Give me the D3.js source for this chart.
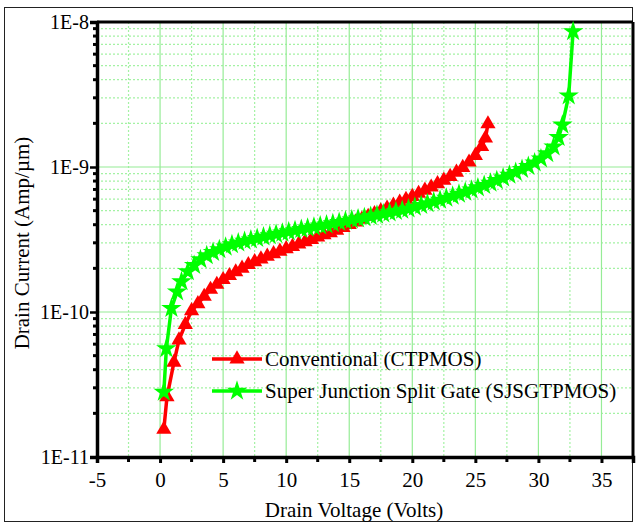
<!DOCTYPE html>
<html>
<head>
<meta charset="utf-8">
<script src="https://cdn.jsdelivr.net/npm/d3@7"></script>
<style>
  body { margin: 0; background: #fff; }
  text { font-family: "Liberation Serif", "Times New Roman", serif; fill: #000; }
</style>
</head>
<body>
<script>
// Conventional (CTPMOS)
var convV = [0.3, 0.55, 1.1, 1.5, 2.0, 2.5, 3.0, 3.5, 4.0, 4.5, 5.0, 5.5, 6.0, 6.5, 7.0, 7.5, 8.0, 8.5, 9.0, 9.5,
  10.0, 10.5, 11.0, 11.5, 12.0, 12.5, 13.0, 13.5, 14.0, 14.5, 15.0, 15.5, 16.0, 16.5, 17.0, 17.5, 18.0, 18.5, 19.0, 19.5,
  20.0, 20.5, 21.0, 21.5, 22.0, 22.5, 23.0, 23.5, 24.0, 24.5, 25.0, 25.5, 25.8, 26.0];
var convI = [1.55e-11, 2.6e-11, 4.5e-11, 6.4e-11, 8.2e-11, 1.02e-10, 1.14e-10, 1.28e-10, 1.43e-10, 1.55e-10,
  1.67e-10, 1.78e-10, 1.89e-10, 2.0e-10, 2.12e-10, 2.22e-10, 2.32e-10, 2.42e-10, 2.52e-10, 2.62e-10,
  2.73e-10, 2.83e-10, 2.94e-10, 3.05e-10, 3.16e-10, 3.28e-10, 3.4e-10, 3.52e-10, 3.66e-10, 3.82e-10,
  4.0e-10, 4.17e-10, 4.36e-10, 4.56e-10, 4.76e-10, 4.97e-10, 5.2e-10, 5.44e-10, 5.7e-10, 5.97e-10,
  6.26e-10, 6.57e-10, 6.9e-10, 7.26e-10, 7.65e-10, 8.1e-10, 8.6e-10, 9.2e-10, 9.9e-10, 1.08e-9,
  1.2e-9, 1.38e-9, 1.58e-9, 1.98e-9];

// Super Junction Split Gate (SJSGTPMOS)
var sjV = [0.3, 0.5, 0.9, 1.35, 1.7, 2.2, 2.7, 3.2, 3.7, 4.2, 4.7, 5.2, 5.7, 6.2, 6.7, 7.2, 7.7, 8.2, 8.7, 9.2,
  9.7, 10.2, 10.7, 11.2, 11.7, 12.2, 12.7, 13.2, 13.7, 14.2, 14.7, 15.2, 15.7, 16.2, 16.7, 17.2, 17.7, 18.2, 18.7, 19.2,
  19.7, 20.2, 20.7, 21.2, 21.7, 22.2, 22.7, 23.2, 23.7, 24.2, 24.7, 25.2, 25.7, 26.2, 26.7, 27.2, 27.7, 28.2, 28.7, 29.2,
  29.7, 30.2, 30.7, 31.2, 31.6, 31.9, 32.4, 32.75];
var sjI = [2.8e-11, 5.6e-11, 1.06e-10, 1.38e-10, 1.62e-10, 1.9e-10, 2.1e-10, 2.3e-10, 2.45e-10, 2.58e-10,
  2.7e-10, 2.81e-10, 2.92e-10, 3.0e-10, 3.08e-10, 3.15e-10, 3.22e-10, 3.3e-10, 3.37e-10, 3.44e-10,
  3.51e-10, 3.58e-10, 3.65e-10, 3.72e-10, 3.79e-10, 3.86e-10, 3.93e-10, 4.0e-10, 4.08e-10, 4.16e-10,
  4.24e-10, 4.32e-10, 4.4e-10, 4.48e-10, 4.57e-10, 4.66e-10, 4.75e-10, 4.84e-10, 4.94e-10, 5.04e-10,
  5.15e-10, 5.3e-10, 5.45e-10, 5.6e-10, 5.76e-10, 5.92e-10, 6.1e-10, 6.3e-10, 6.5e-10, 6.72e-10,
  6.95e-10, 7.2e-10, 7.47e-10, 7.76e-10, 8.08e-10, 8.42e-10, 8.8e-10, 9.2e-10, 9.65e-10, 1.01e-9,
  1.07e-9, 1.14e-9, 1.24e-9, 1.38e-9, 1.6e-9, 1.95e-9, 3.1e-9, 8.6e-9];

var xTicks = [-5, 0, 5, 10, 15, 20, 25, 30, 35];
var xMinor = [-2.5, 2.5, 7.5, 12.5, 17.5, 22.5, 27.5, 32.5];
var yTicks = [1e-11, 1e-10, 1e-9, 1e-8];
var yLabels = ["1E-11", "1E-10", "1E-9", "1E-8"];
var seriesNames = ["Conventional (CTPMOS)", "Super Junction Split Gate (SJSGTPMOS)"];

var W = 636, H = 529;
var mLeft = 97, mRight = 633, mTop = 22, mBottom = 457;

var svg = d3.select('body').append('svg')
    .attr('width', W)
    .attr('height', H);

// outer frame
svg.append('rect')
    .attr('x', 4.5).attr('y', 7.5)
    .attr('width', 628).attr('height', 514)
    .attr('fill', 'none').attr('stroke', '#222').attr('stroke-width', 1);

var x = d3.scaleLinear().domain([-5, 37.5]).range([mLeft, mRight]);
var y = d3.scaleLog().domain([1e-11, 1e-8]).range([mBottom, mTop]);

// log minor values
var yMinor = [];
yTicks.slice(0, 3).forEach(function(d) {
    for (var k = 2; k <= 9; k++) yMinor.push(d * k);
});

var grid = svg.append('g');
grid.selectAll('.vmin').data(xMinor).enter().append('line')
    .attr('x1', function(d) { return x(d); }).attr('x2', function(d) { return x(d); })
    .attr('y1', mTop).attr('y2', mBottom)
    .attr('stroke', '#a4f2a4').attr('stroke-width', 1.2).attr('stroke-dasharray', '2,2');
grid.selectAll('.hmin').data(yMinor).enter().append('line')
    .attr('x1', mLeft).attr('x2', mRight)
    .attr('y1', function(d) { return y(d); }).attr('y2', function(d) { return y(d); })
    .attr('stroke', '#a4f2a4').attr('stroke-width', 1.2).attr('stroke-dasharray', '2,2');
grid.selectAll('.vmaj').data(xTicks.slice(1)).enter().append('line')
    .attr('x1', function(d) { return x(d); }).attr('x2', function(d) { return x(d); })
    .attr('y1', mTop).attr('y2', mBottom)
    .attr('stroke', '#96ec96').attr('stroke-width', 1.2);
grid.selectAll('.hmaj').data(yTicks.slice(1, 3)).enter().append('line')
    .attr('x1', mLeft).attr('x2', mRight)
    .attr('y1', function(d) { return y(d); }).attr('y2', function(d) { return y(d); })
    .attr('stroke', '#96ec96').attr('stroke-width', 1.2);

// plot frame top / right
svg.append('line').attr('x1', mLeft).attr('x2', mRight).attr('y1', mTop).attr('y2', mTop)
    .attr('stroke', '#000').attr('stroke-width', 3);
svg.append('line').attr('x1', mRight).attr('x2', mRight).attr('y1', mTop).attr('y2', mBottom)
    .attr('stroke', '#000').attr('stroke-width', 3);

// axes
var xAxis = d3.axisBottom(x).tickValues(xTicks).tickSize(6).tickPadding(9)
    .tickFormat(function(d) { return d; });
var gx = svg.append('g').attr('transform', 'translate(0,' + mBottom + ')').call(xAxis);
gx.select('.domain').attr('stroke-width', 3.5);
gx.selectAll('.tick line').attr('stroke-width', 3);
gx.selectAll('text').attr('font-size', 21).attr('font-family', 'Liberation Serif');
gx.selectAll('.mt').data(xMinor).enter().append('line')
    .attr('x1', function(d) { return x(d); }).attr('x2', function(d) { return x(d); })
    .attr('y1', 0).attr('y2', 5).attr('stroke', '#000').attr('stroke-width', 3);

var yAxis = d3.axisLeft(y).tickValues(yTicks).tickSize(7).tickPadding(1)
    .tickFormat(function(d, i) { return yLabels[i]; });
var gy = svg.append('g').attr('transform', 'translate(' + mLeft + ',0)').call(yAxis);
gy.select('.domain').attr('stroke-width', 3.5);
gy.selectAll('.tick line').attr('stroke-width', 2.5);
gy.selectAll('text').attr('font-size', 20).attr('font-family', 'Liberation Serif');
gy.selectAll('.mt').data(yMinor).enter().append('line')
    .attr('x1', -4).attr('x2', 0)
    .attr('y1', function(d) { return y(d); }).attr('y2', function(d) { return y(d); })
    .attr('stroke', '#000').attr('stroke-width', 3);

// axis titles
svg.append('text')
    .attr('x', 354).attr('y', 517)
    .attr('text-anchor', 'middle').attr('font-size', 21)
    .text('Drain Voltage (Volts)');
svg.append('text')
    .attr('transform', 'translate(29,243) rotate(-90)')
    .attr('text-anchor', 'middle').attr('font-size', 21)
    .text('Drain Current (Amp/\u00b5m)');

// series
var conv = convV.map(function(v, i) { return { v: v, c: convI[i] }; });
var sj = sjV.map(function(v, i) { return { v: v, c: sjI[i] }; });

var line = d3.line()
    .x(function(d) { return x(d.v); })
    .y(function(d) { return y(d.c); });

var triangle = d3.symbol().type(d3.symbolTriangle).size(100);
var star = d3.symbol().type(d3.symbolStar).size(130);

var plot = svg.append('g');
plot.append('path').attr('d', line(conv))
    .attr('fill', 'none').attr('stroke', '#ff0000').attr('stroke-width', 3.5);
plot.selectAll('.tri').data(conv).enter().append('path')
    .attr('d', triangle)
    .attr('transform', function(d) { return 'translate(' + x(d.v) + ',' + y(d.c) + ')'; })
    .attr('fill', '#ff0000');

plot.append('path').attr('d', line(sj))
    .attr('fill', 'none').attr('stroke', '#00ff00').attr('stroke-width', 3.5);
plot.selectAll('.star').data(sj).enter().append('path')
    .attr('d', star)
    .attr('transform', function(d) { return 'translate(' + x(d.v) + ',' + y(d.c) + ')'; })
    .attr('fill', '#00ff00');

// legend
var legend = svg.append('g').attr('transform', 'translate(212,359)');
var colors = ['#ff0000', '#00ff00'];
var shapes = [triangle, star];
seriesNames.forEach(function(name, i) {
    var row = legend.append('g').attr('transform', 'translate(0,' + (i * 32) + ')');
    row.append('line').attr('x1', 0).attr('x2', 50).attr('y1', 0).attr('y2', 0)
        .attr('stroke', colors[i]).attr('stroke-width', 3.5);
    row.append('path').attr('d', shapes[i]).attr('transform', 'translate(25,0)')
        .attr('fill', colors[i]);
    row.append('text').attr('x', 53).attr('y', 7).attr('font-size', 21).text(name);
});
</script>
</body>
</html>
